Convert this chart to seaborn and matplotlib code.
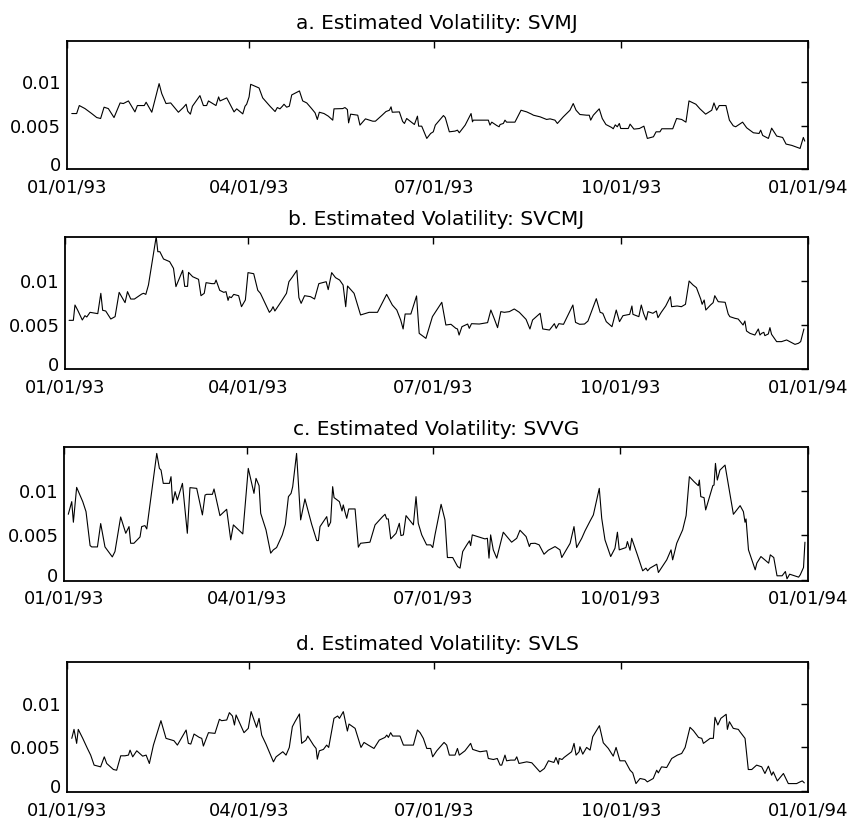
import numpy as np
import pandas as pd
import matplotlib
matplotlib.use("Agg")
import matplotlib.pyplot as plt
import matplotlib.dates as mdates
import matplotlib.transforms as mtransforms
import seaborn as sns

# ---- data: (day of 1993, volatility x 1e-3) ----
svmj = [(2.5,6.41),(4.9,6.41),(6.2,7.33),(9.0,6.98),(12.3,6.41),(14.8,5.95),(16.7,5.84),(18.4,7.14),(20.5,6.98),(23.3,5.95),
        (26.3,7.63),(27.9,7.56),(30.4,7.86),(33.6,6.60),(34.8,7.33),(38.2,7.33),(39.1,7.71),(41.9,6.56),(45.5,9.85),(46.8,8.70),
        (48.9,7.56),(51.2,7.63),(55.0,6.56),(57.4,7.10),(58.8,7.48),(59.6,6.68),(60.9,6.34),(61.9,7.25),(65.6,8.47),(67.3,7.33),
        (68.9,7.33),(69.8,7.86),(73.5,7.33),(74.8,8.32),(75.5,7.86),(78.8,8.21),(82.4,6.60),(83.7,6.95),(86.7,6.37),(87.8,7.25),
        (88.6,7.48),(89.8,8.32),(90.6,9.77),(94.7,9.35),(96.5,8.21),(100.1,7.25),(102.6,6.64),(103.7,7.10),(105.0,6.95),(106.2,7.25),
        (107.0,7.48),(108.3,7.14),(109.6,7.25),(110.8,8.55),(114.6,9.01),(116.2,7.86),(118.2,7.63),(120.6,6.98),(122.3,6.49),(123.4,5.73),
        (124.4,6.56),(126.7,6.41),(128.8,6.11),(131.0,5.65),(131.6,6.95),(135.9,6.98),(137.0,7.10),(138.2,6.87),(138.8,5.34),(139.8,6.34),
        (143.3,6.22),(144.4,5.08),(147.1,5.80),(150.7,5.53),(152.0,5.53),(155.1,6.18),(157.2,6.64),(158.9,6.79),(159.7,7.18),(160.3,6.56),
        (163.8,6.60),(165.4,5.50),(166.3,5.27),(167.4,5.84),(171.2,5.15),(172.7,6.11),(173.3,4.96),(174.8,4.96),(177.3,3.55),(179.2,4.12),
        (180.5,4.31),(181.5,5.08),(185.5,6.18),(186.4,5.95),(188.4,4.31),(191.2,4.39),(192.4,4.50),(193.3,4.20),(196.2,5.08),(199.1,6.41),
        (199.8,5.46),(200.2,5.65),(207.6,5.65),(208.4,5.08),(209.3,5.42),(211.7,5.04),(212.9,4.89),(213.4,5.15),(215.0,5.27),(215.8,5.65),
        (216.6,5.42),(220.7,5.42),(223.7,6.79),(226.5,6.60),(228.9,6.34),(229.8,6.22),(233.1,6.03),(236.3,5.73),(238.0,5.80),(240.4,5.65),
        (241.6,5.27),(244.5,6.03),(247.8,6.79),(249.4,7.56),(250.8,6.79),(252.7,6.30),(256.0,6.22),(257.3,6.22),(258.0,5.65),(259.3,6.22),
        (262.2,6.95),(263.7,5.84),(265.5,5.15),(268.3,4.81),(269.1,4.66),(270.1,5.11),(271.1,4.89),(272.1,5.27),(272.8,4.69),(276.5,4.69),
        (277.4,5.19),(279.3,4.62),(282.0,4.69),(284.2,4.96),(285.9,3.55),(288.9,3.74),(290.2,4.31),(292.1,4.31),(293.0,4.66),(298.4,4.66),
        (300.3,5.84),(302.8,5.73),(304.9,5.42),(306.4,7.86),(309.8,7.48),(311.8,6.95),(314.6,6.34),(317.6,6.79),(318.7,7.63),(320.0,6.79),
        (321.3,7.33),(324.6,7.33),(326.3,5.65),(328.2,5.00),(329.4,4.89),(332.8,5.42),(334.8,4.77),(338.1,4.20),(340.9,4.12),(341.7,4.50),
        (342.7,3.89),(345.5,3.55),(347.1,4.73),(349.6,3.82),(352.5,3.66),(354.2,2.90),(357.0,2.75),(361.1,2.40),(362.7,3.66),(363.4,3.24)]

svcmj = [(2.0,5.53),(4.1,5.53),(4.9,7.27),(6.2,6.70),(8.5,5.57),(9.8,6.06),(10.7,5.91),(12.3,6.44),(16.1,6.29),(17.6,8.60),
         (18.5,6.67),(20.0,6.59),(22.5,5.68),(24.6,5.95),(26.6,8.71),(29.5,7.54),(30.7,8.79),(32.3,7.95),(34.1,7.95),(37.7,8.52),
         (38.6,8.60),(39.7,8.48),(41.0,9.55),(44.8,15.04),(45.6,13.33),(46.6,13.33),(48.4,12.50),(51.4,12.20),(53.3,11.44),(54.5,9.36),
         (57.8,11.21),(58.8,9.39),(60.2,9.39),(60.7,10.98),(62.7,10.49),(65.6,10.19),(66.8,8.33),(68.4,8.60),(69.3,9.81),(72.2,9.70),
         (73.5,9.70),(74.2,10.11),(76.0,8.94),(78.0,8.71),(79.1,8.79),(80.1,7.80),(80.7,8.22),(81.7,8.11),(82.9,8.48),(85.3,8.33),
         (86.7,7.08),(88.6,7.84),(89.9,10.95),(92.7,10.83),(94.7,8.94),(96.0,8.60),(100.4,6.44),(101.4,6.70),(102.2,7.08),(103.1,6.59),
         (106.4,7.73),(108.8,8.60),(110.0,9.92),(111.6,10.42),(113.9,11.21),(114.9,8.11),(116.0,7.46),(117.7,8.33),(120.6,8.22),(122.6,7.95),
         (124.7,9.70),(127.2,9.85),(128.3,9.92),(129.3,9.02),(131.0,10.95),(132.9,10.38),(134.9,10.11),(136.6,9.55),(137.9,7.08),(138.8,9.43),
         (142.0,8.60),(145.2,6.14),(149.4,6.44),(152.0,6.44),(153.5,6.44),(158.0,8.48),(160.8,7.27),(163.0,6.70),(164.9,5.57),(166.1,4.55),
         (167.1,6.25),(169.9,6.25),(172.7,8.30),(174.0,4.05),(177.3,3.48),(180.5,5.95),(185.1,7.58),(187.1,5.00),(189.6,5.08),(192.0,4.62),
         (192.8,4.55),(193.6,3.86),(195.0,4.81),(197.8,5.11),(198.6,4.62),(199.7,5.15),(203.5,5.11),(207.6,5.27),(209.2,6.70),(210.8,5.76),
         (212.5,4.70),(214.1,6.52),(215.8,6.44),(218.3,6.52),(220.7,6.82),(223.2,6.44),(226.5,5.64),(228.4,4.55),(229.7,5.57),(233.4,6.33),
         (234.7,4.55),(238.0,4.43),(240.4,5.15),(241.3,4.62),(242.6,5.15),(244.9,5.08),(249.5,7.27),(250.8,5.30),(252.8,5.08),(255.2,5.11),
         (256.9,5.45),(261.0,7.99),(262.9,6.44),(264.2,6.33),(265.9,5.38),(268.7,4.81),(270.8,6.70),(272.4,5.38),(274.1,6.06),(277.4,6.21),
         (278.5,7.16),(279.0,6.21),(281.9,5.95),(283.1,7.27),(284.2,6.33),(285.5,5.57),(286.4,6.52),(288.8,6.33),(290.5,6.59),(291.3,5.83),
         (292.9,6.44),(295.1,7.16),(297.4,8.22),(298.0,7.08),(300.7,7.16),(302.8,7.08),(304.8,7.35),(306.6,10.00),(308.5,9.55),(310.2,9.24),
         (312.3,7.95),(313.0,7.35),(314.0,7.84),(314.8,6.70),(317.1,7.27),(318.4,7.54),(319.2,8.33),(320.9,7.65),(324.3,7.58),(325.8,6.25),
         (326.6,5.95),(329.1,5.76),(330.7,5.68),(333.1,5.00),(334.0,5.45),(334.8,4.32),(336.5,4.05),(338.9,3.86),(340.6,4.55),(341.4,3.86),
         (342.2,4.05),(343.3,4.17),(343.8,3.79),(345.5,3.98),(346.3,4.70),(347.1,3.94),(349.6,3.11),(352.0,3.11),(354.5,3.30),(358.6,2.80),
         (360.3,2.92),(361.4,3.11),(363.0,4.55)]

svvg = [(2.1,7.35),(3.8,8.77),(4.6,6.46),(6.2,10.37),(9.2,8.77),(10.8,7.65),(12.8,3.84),(13.6,3.69),(16.4,3.69),(18.0,6.31),
        (20.1,3.69),(23.7,2.57),(25.0,3.17),(27.8,7.05),(30.3,5.22),(31.9,5.97),(32.7,4.10),(34.3,4.10),(37.3,4.81),(38.1,5.97),
        (39.7,6.08),(40.6,5.71),(45.5,14.18),(46.8,12.50),(47.6,12.31),(48.7,10.82),(51.7,10.82),(52.5,11.57),(53.3,8.58),(54.5,9.89),
        (55.6,8.96),(58.1,10.82),(60.5,5.22),(61.8,10.34),(65.1,10.26),(67.9,7.28),(69.2,9.51),(70.0,9.59),(72.8,9.59),(73.6,10.19),
        (76.5,7.20),(79.8,7.91),(81.8,4.48),(83.1,6.16),(87.7,5.15),(90.4,12.50),(93.2,9.70),(94.2,11.38),(95.7,10.56),(96.5,7.46),
        (99.1,5.60),(101.4,2.99),(102.7,3.36),(104.3,3.62),(107.1,5.04),(108.6,6.23),(110.1,9.33),(111.4,9.70),(112.2,10.45),(114.1,14.18),
        (116.1,6.72),(118.2,9.07),(121.5,6.23),(124.0,4.40),(124.8,4.40),(125.6,5.97),(128.9,7.09),(129.7,5.97),(130.8,6.46),(131.8,10.45),
        (132.5,9.22),(135.1,8.77),(136.4,7.72),(137.0,8.40),(137.9,7.57),(138.7,6.90),(139.7,7.95),(142.8,7.95),(144.4,3.66),(145.5,4.10),
        (150.1,4.22),(152.6,6.16),(156.3,7.09),(157.5,7.35),(158.3,6.83),(159.1,6.83),(160.3,4.59),(162.9,5.22),(164.5,6.34),(165.3,4.96),
        (166.5,5.04),(167.8,7.20),(171.4,6.16),(172.7,9.33),(173.8,6.34),(175.5,5.04),(177.9,3.92),(179.9,3.92),(180.9,3.62),(182.0,5.04),
        (185.0,8.47),(186.9,6.72),(188.1,2.50),(190.7,2.50),(193.1,1.49),(194.3,1.31),(195.6,3.17),(197.6,3.92),(198.9,4.37),(199.5,3.84),
        (200.3,5.04),(206.5,4.59),(207.7,4.66),(208.5,2.43),(209.3,5.04),(210.6,3.36),(212.3,2.43),(215.5,5.34),(219.6,4.22),(222.1,4.66),
        (223.7,5.56),(226.7,4.85),(228.3,3.73),(228.9,4.07),(231.1,4.10),(233.1,3.92),(235.5,2.87),(237.6,3.32),(240.9,3.73),(243.3,3.36),
        (244.2,2.50),(248.3,4.10),(250.2,5.97),(251.5,3.62),(254.0,4.66),(255.6,5.49),(258.1,6.60),(259.7,7.28),(262.6,10.26),(263.8,6.90),
        (265.4,4.48),(268.2,2.61),(269.5,3.17),(270.3,3.54),(271.5,5.34),(272.4,3.36),(275.7,3.62),(276.4,4.29),(277.7,3.32),(278.5,4.66),
        (281.3,2.80),(283.9,1.01),(285.5,1.31),(286.3,1.01),(287.5,1.31),(290.8,1.75),(291.6,0.82),(295.7,2.24),(297.8,3.36),(298.6,2.24),
        (300.6,4.10),(303.5,5.60),(305.2,7.20),(306.8,11.57),(309.1,11.01),(311.2,10.56),(311.7,11.19),(312.4,9.33),(314.0,9.22),(314.8,7.84),
        (318.3,10.56),(318.9,10.63),(319.6,13.06),(320.5,11.19),(321.8,12.31),(324.3,12.87),(328.4,7.35),(331.7,8.32),(333.3,7.65),(334.1,6.46),
        (334.6,6.83),(335.8,3.36),(339.1,1.12),(339.9,1.87),(341.9,2.61),(345.7,1.87),(346.5,2.80),(348.2,2.50),(349.8,0.45),(352.3,0.45),
        (353.9,0.93),(354.7,0.11),(356.0,0.63),(360.4,0.30),(361.2,0.56),(362.8,1.38),(363.5,4.22)]

svls = [(2.5,6.05),(3.6,7.09),(4.9,5.47),(5.7,7.09),(7.9,6.05),(10.2,4.88),(11.8,4.11),(13.5,2.95),(16.7,2.75),(18.5,3.91),
        (19.7,3.14),(23.0,2.44),(24.6,2.36),(26.6,4.03),(28.7,4.03),(30.4,4.11),(31.2,4.69),(32.5,3.91),(34.5,4.61),(37.4,3.99),
        (39.1,4.11),(40.7,3.14),(42.7,5.27),(46.4,8.10),(48.9,6.05),(52.8,5.78),(54.5,5.27),(58.8,7.02),(59.9,5.47),(61.1,5.39),
        (62.7,6.55),(65.3,6.16),(66.5,6.05),(67.3,5.16),(69.8,6.71),(73.0,6.63),(75.2,8.26),(76.3,8.10),(78.8,8.18),(80.1,9.03),
        (81.6,8.64),(82.6,7.60),(83.4,8.76),(87.3,6.71),(88.6,7.02),(89.4,7.21),(90.8,9.15),(93.5,7.33),(94.7,8.37),(96.0,6.43),
        (98.1,5.39),(101.8,3.33),(103.1,3.91),(106.4,4.50),(108.0,4.11),(109.6,5.00),(111.1,7.40),(112.4,7.98),(114.6,8.88),(115.7,5.47),
        (117.8,5.85),(118.7,6.32),(121.5,5.27),(122.8,4.88),(123.4,3.64),(124.4,4.61),(126.4,4.77),(128.0,5.27),(129.0,5.00),(131.6,8.37),
        (133.4,8.64),(134.3,8.37),(136.2,9.15),(137.5,7.71),(138.2,6.90),(139.0,7.71),(142.0,7.21),(144.9,5.00),(146.4,5.58),(148.5,5.27),
        (151.3,4.88),(153.9,5.85),(156.7,6.16),(157.6,6.43),(158.4,6.16),(159.5,6.71),(160.5,6.32),(164.1,6.32),(165.8,5.27),(167.4,5.27),
        (170.7,5.27),(172.7,7.02),(174.0,6.71),(175.6,6.05),(177.3,4.88),(179.2,4.88),(180.2,3.91),(182.2,4.61),(185.8,5.58),(187.1,5.27),
        (188.4,4.11),(191.2,4.11),(192.4,4.88),(193.3,4.11),(196.1,4.61),(198.9,5.47),(199.9,4.77),(203.5,4.50),(206.8,4.61),(207.6,3.72),
        (210.1,3.60),(212.0,3.72),(213.4,2.95),(214.2,2.95),(215.8,4.11),(216.6,3.45),(218.6,3.53),(220.7,3.53),(221.6,3.91),(222.7,3.14),
        (226.5,3.33),(229.0,3.22),(233.0,2.17),(235.2,2.56),(237.2,3.45),(239.9,3.26),(240.9,3.84),(242.1,3.06),(242.5,3.72),(243.9,3.60),
        (244.9,3.84),(248.6,4.50),(249.8,5.47),(250.8,4.11),(252.3,4.50),(252.7,5.08),(254.1,4.22),(256.0,5.00),(257.7,4.69),(259.0,6.24),
        (262.3,7.52),(264.2,5.54),(266.7,4.88),(269.1,3.99),(270.5,5.00),(272.4,3.45),(274.9,3.45),(276.5,2.75),(277.4,2.36),(278.7,2.05),
        (280.3,0.81),(282.3,1.40),(284.7,1.28),(285.9,1.01),(288.8,1.40),(290.5,2.36),(291.3,2.05),(292.9,2.75),(295.4,2.67),(297.9,3.72),
        (300.7,4.11),(302.8,4.30),(304.5,5.00),(306.9,7.33),(308.6,6.94),(311.1,6.16),(312.7,6.05),(313.5,5.47),(316.8,6.05),(318.4,6.05),
        (319.2,8.49),(320.6,7.60),(322.1,8.37),(324.7,8.84),(325.3,7.09),(326.3,7.98),(328.2,7.21),(330.7,7.09),(331.5,6.82),(334.0,6.05),
        (335.6,2.44),(337.3,2.44),(339.7,2.95),(342.2,2.75),(343.8,1.98),(345.5,2.83),(347.1,1.78),(347.9,2.17),(349.9,1.12),(352.9,1.98),
        (355.3,0.81),(359.4,0.81),(361.1,1.01),(362.2,1.12),(363.2,0.89)]

titles = ["a. Estimated Volatility: SVMJ", "b. Estimated Volatility: SVCMJ",
          "c. Estimated Volatility: SVVG", "d. Estimated Volatility: SVLS"]
x_tick_dates = ["1993-01-01", "1993-04-01", "1993-07-01", "1993-10-01", "1994-01-01"]
y_ticks = [0, 0.005, 0.01]
y_tick_labels = ["0", "0.005", "0.01"]

# ---- layout (pixel boxes of the reference: left, top, right, bottom) ----
W, H = 850, 823
boxes = [(66.7, 41, 808, 169.3), (65, 237, 808, 369), (64, 447, 808, 580.7), (66.7, 662, 808, 792.3)]
ylims = [(0, 0.01475), (0, 0.0150), (-0.0001, 0.0149), (-0.0002, 0.0149)]

sns.set_style("white")
plt.rcParams["font.family"] = ["DejaVu Sans"]

fig = plt.figure(figsize=(W / 100, H / 100), dpi=100)
base = pd.Timestamp("1993-01-01")
series = [svmj, svcmj, svvg, svls]
lift = mtransforms.ScaledTranslation(0, 3.5 / 72, fig.dpi_scale_trans)

for pts, title, box, yl in zip(series, titles, boxes, ylims):
    l, t, r, b = box
    ax = fig.add_axes([l / W, 1 - b / H, (r - l) / W, (b - t) / H])
    days = np.array([p[0] for p in pts])
    vols = np.array([p[1] for p in pts]) * 1e-3
    df = pd.DataFrame({"date": base + pd.to_timedelta(days, unit="D"), "vol": vols})
    sns.lineplot(data=df, x="date", y="vol", ax=ax, color="black", linewidth=0.8)
    ax.set_xlim(pd.Timestamp("1993-01-01"), pd.Timestamp("1994-01-01"))
    ax.set_ylim(*yl)
    ax.set_xticks(pd.to_datetime(x_tick_dates))
    ax.xaxis.set_major_formatter(mdates.DateFormatter("%m/%d/%y"))
    ax.set_yticks(y_ticks)
    ax.set_yticklabels(y_tick_labels)
    ax.set_xlabel("")
    ax.set_ylabel("")
    ax.tick_params(direction="in", top=True, right=True, length=5, width=1,
                   labelsize=13, colors="black")
    ax.tick_params(axis="x", pad=6.5)
    ax.tick_params(axis="y", pad=4)
    # lift the "0" label slightly so it sits above the date labels, as in the reference
    zero_lbl = ax.get_yticklabels()[0]
    zero_lbl.set_transform(zero_lbl.get_transform() + lift)
    for s in ax.spines.values():
        s.set_visible(True)
        s.set_color("black")
        s.set_linewidth(1.3)
    ax.set_title(title, fontsize=14.5, pad=8.5, color="black")

fig.savefig("out.png", dpi=100, facecolor="white")
